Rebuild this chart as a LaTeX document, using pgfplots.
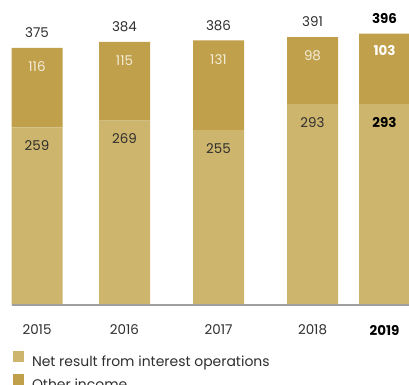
\documentclass[border=0pt]{standalone}
\usepackage{pgfplots}
\pgfplotsset{compat=1.18}
\usepackage{fontspec}
\setmainfont{Poppins}
\definecolor{lightgold}{HTML}{CDB56D}
\definecolor{darkgold}{HTML}{C0A04B}
\definecolor{txtc}{HTML}{2E2E2E}
\definecolor{wtxtc}{HTML}{F3ECD8}
\newcommand\lf{\fontsize{13.5}{15}\selectfont}
\begin{document}
\begin{tikzpicture}
\begin{axis}[
  at={(0,0)}, anchor=origin,
  width=409bp, height=305bp, scale only axis,
  xmin=0, xmax=409, ymin=0, ymax=445,
  axis lines=none,
  ybar stacked, bar width=51bp,
  clip=false,
  legend image code/.code={\fill[#1] (0bp,0bp) rectangle (11bp,11bp);},
  legend style={draw=none, fill=none, at={(13/409,-46/305)}, anchor=north west,
    inner sep=0pt, outer sep=0pt,
    font=\fontsize{14}{16}\selectfont, text=txtc, row sep=6bp, column sep=8bp,
    nodes={inner sep=0pt, outer sep=0pt, text height=10bp, text depth=2bp}},
  legend cell align=left,
]
\addplot[fill=lightgold, draw=none]
  coordinates {(37,259) (124.5,269) (218.5,255) (312.5,293) (384.5,293)};
\addlegendentry{Net result from interest operations}
\addplot[fill=darkgold, draw=none]
  coordinates {(37,116) (124.5,115) (218.5,131) (312.5,98) (384.5,103)};
\addlegendentry{Other income}
\end{axis}
\draw[gray!75, line width=1.3pt] (12bp,0bp) -- (409bp,0bp);
% totals
\node[font=\lf, text=txtc] at (37bp,272.0bp) {375};
\node[font=\lf, text=txtc] at (124.5bp,278.2bp) {384};
\node[font=\lf, text=txtc] at (218.5bp,279.6bp) {386};
\node[font=\lf, text=txtc] at (312.5bp,283.0bp) {391};
\node[font=\lf\bfseries, text=black] at (384.5bp,286.4bp) {396};
% other income labels
\node[font=\lf, text=wtxtc] at (37bp,238.0bp) {116};
\node[font=\lf, text=wtxtc] at (124.5bp,244.2bp) {115};
\node[font=\lf, text=wtxtc] at (218.5bp,245.6bp) {131};
\node[font=\lf, text=wtxtc] at (312.5bp,249.0bp) {98};
\node[font=\lf\bfseries, text=white] at (384.5bp,254.4bp) {103};
% net interest labels
\node[font=\lf, text=txtc] at (37bp,159.5bp) {259};
\node[font=\lf, text=txtc] at (124.5bp,166.4bp) {269};
\node[font=\lf, text=txtc] at (218.5bp,156.8bp) {255};
\node[font=\lf, text=txtc] at (312.5bp,182.8bp) {293};
\node[font=\lf\bfseries, text=black] at (384.5bp,182.8bp) {293};
% years
\node[font=\lf, text=txtc] at (37bp,-25bp) {2015};
\node[font=\lf, text=txtc] at (124.5bp,-25bp) {2016};
\node[font=\lf, text=txtc] at (218.5bp,-25bp) {2017};
\node[font=\lf, text=txtc] at (312.5bp,-25bp) {2018};
\node[font=\lf\bfseries, text=black] at (384.5bp,-25bp) {2019};
\pgfresetboundingbox
\useasboundingbox (0,-80bp) rectangle (409bp,305bp);
\end{tikzpicture}
\end{document}
